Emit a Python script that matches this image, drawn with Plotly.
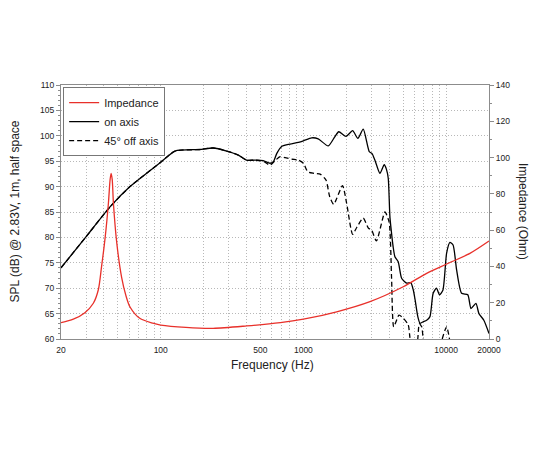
import plotly.graph_objects as go

# Impedance (Ohm) vs frequency (Hz)
imp_freq = [20, 24.4, 29.4, 33.7, 36.5, 38.5, 40.8, 43.0, 44.2, 44.9, 45.7, 46.6, 49.2, 53.2, 57, 60.8,
            71.3, 88, 100, 150, 233, 400, 690, 1000, 1711, 2930, 5010, 7310, 10000, 14700, 20000]
imp_ohm = [9.0, 10.9, 14.5, 19.7, 27, 40, 56, 75, 88, 91.3, 88, 75, 53, 34, 24, 17.8,
           11.4, 8.7, 7.7, 6.4, 5.9, 7.2, 9.0, 10.9, 15.0, 20.6, 28.8, 36.2, 41.2, 47.2, 54.0]

# On-axis SPL (dB)
on_freq = [20, 30.3, 44.1, 60.9, 100, 125.9, 188, 233, 290, 350, 400, 458, 523, 583, 616, 650, 704,
           784, 924, 1000, 1143, 1270, 1493, 1660, 1770, 1990, 2214, 2410, 2627, 2894, 3030, 3173,
           3440, 3687, 3830, 3935, 4042, 4150, 4265, 4380, 4620, 4890, 5300, 5660, 5900, 6070, 6340,
           6570, 6910, 7310, 7710, 8120, 8570, 9000, 9500, 10090, 10640, 11200, 11860, 12850, 14200,
           14960, 16200, 17000, 18400, 20000]
on_spl = [74.0, 80.3, 86.0, 90.0, 94.8, 97.0, 97.3, 97.6, 97.0, 96.2, 95.2, 95.2, 95.1, 94.6, 94.9,
          96.5, 97.9, 98.3, 98.7, 99.0, 99.6, 99.4, 98.0, 99.8, 100.8, 99.9, 101.0, 99.5, 101.3, 96.9,
          96.5, 95.2, 92.6, 94.3, 93.3, 91.6, 84.0, 80.8, 78.0, 76.2, 75.2, 71.9, 71.0, 71.1, 69.6,
          67.7, 64.4, 63.1, 63.4, 63.7, 64.4, 69.0, 70.0, 68.7, 69.6, 76.9, 79.0, 78.5, 73.6, 69.0,
          68.7, 66.0, 67.0, 65.0, 63.7, 61.1]

# 45 deg off-axis SPL (dB)
off_freq = [20, 30.3, 44.1, 60.9, 100, 125.9, 188, 233, 290, 350, 400, 458, 523, 583, 627, 687, 745,
            830, 924, 1000, 1075, 1190, 1320, 1440, 1530, 1630, 1880, 2010, 2214, 2370, 2627, 2860,
            3000, 3250, 3730, 3990, 4150, 4300, 4680, 5010, 5430, 5580, 5800, 6280, 6490, 6750, 6930,
            7200, 9000, 9300, 10090, 10640, 11000]
off_spl = [74.0, 80.3, 86.0, 90.0, 94.8, 97.0, 97.3, 97.6, 97.0, 96.2, 95.2, 95.2, 95.0, 94.2, 95.0,
           95.9, 95.7, 95.4, 95.2, 94.6, 92.9, 92.6, 92.4, 91.3, 88.0, 86.5, 90.2, 86.7, 80.6, 82.0,
           83.8, 81.8, 81.5, 79.3, 85.0, 83.0, 72.0, 62.4, 64.7, 64.1, 62.8, 60.3, 57.5, 59.3, 63.0,
           62.4, 59.5, 56, 56, 59.5, 62.4, 59.5, 56]

x_major = [20, 100, 500, 1000, 10000, 20000]
x_major_text = ["20", "100", "500", "1000", "10000", "20000"]
x_minor = [30, 40, 50, 60, 70, 80, 90, 200, 300, 400, 600, 700, 800, 900,
           2000, 3000, 4000, 5000, 6000, 7000, 8000, 9000]

FONT = "Liberation Sans, Arial, sans-serif"
AXC = "#8c8c8c"
GRID = "#b8b8b8"
GRIDDASH = "1px,2px"
RED = "#e8302a"

fig = go.Figure()
fig.add_trace(go.Scatter(x=imp_freq, y=imp_ohm, name="Impedance", yaxis="y2", mode="lines",
                         line=dict(color=RED, width=1.3, shape="spline", smoothing=0.8)))
fig.add_trace(go.Scatter(x=on_freq, y=on_spl, name="on axis", mode="lines",
                         line=dict(color="black", width=1.3, shape="spline", smoothing=0.6)))
fig.add_trace(go.Scatter(x=off_freq, y=off_spl, name="45° off axis", mode="lines",
                         line=dict(color="black", width=1.3, dash="5px,3px", shape="spline", smoothing=0.6)))

fig.update_layout(
    width=550, height=450,
    margin=dict(l=53, r=69, t=77, b=119),
    paper_bgcolor="white", plot_bgcolor="white",
    font=dict(family=FONT, size=8.5, color="#222"),
    showlegend=True,
    legend=dict(x=0.005, y=0.992, xanchor="left", yanchor="top",
                bordercolor="#777", borderwidth=1, bgcolor="white",
                font=dict(size=11, family=FONT, color="#222"),
                tracegroupgap=0, itemwidth=30),
    xaxis=dict(type="log", range=[1.30103, 4.30103],
               tickvals=x_major, ticktext=x_major_text,
               showgrid=True, gridcolor=GRID, griddash=GRIDDASH, gridwidth=1,
               showline=True, linecolor=AXC, linewidth=1, mirror=True,
               ticks="", ticklabelstandoff=3,
               minor=dict(tickvals=x_minor, showgrid=True, gridcolor=GRID, griddash=GRIDDASH,
                          ticks=""),
               zeroline=False),
    yaxis=dict(range=[60, 110], dtick=5, tick0=60,
               showgrid=True, gridcolor=GRID, griddash=GRIDDASH, gridwidth=1,
               showline=True, linecolor=AXC, linewidth=1,
               ticks="outside", ticklen=4, tickcolor=AXC,
               minor=dict(dtick=1, ticks="outside", ticklen=2, tickcolor=AXC, showgrid=False),
               zeroline=False),
    yaxis2=dict(range=[0, 140], dtick=20, tick0=0, overlaying="y", side="right",
                showgrid=False, showline=True, linecolor=AXC, linewidth=1,
                ticks="outside", ticklen=4, tickcolor=AXC,
                minor=dict(dtick=10, ticks="outside", ticklen=2, tickcolor=AXC),
                zeroline=False),
    annotations=[
        dict(text="SPL (dB) @ 2.83V, 1m, half space", xref="paper", yref="paper",
             x=-0.1086, y=0.5, textangle=-90, showarrow=False,
             font=dict(size=12, family=FONT, color="#222"), xanchor="center", yanchor="middle"),
        dict(text="Impedance (Ohm)", xref="paper", yref="paper",
             x=1.0794, y=0.5, textangle=90, showarrow=False,
             font=dict(size=12, family=FONT, color="#222"), xanchor="center", yanchor="middle"),
        dict(text="Frequency (Hz)", xref="paper", yref="paper",
             x=0.495, y=-0.102, showarrow=False,
             font=dict(size=12, family=FONT, color="#222"), xanchor="center", yanchor="middle"),
    ],
)

fig.write_html("out.html")
